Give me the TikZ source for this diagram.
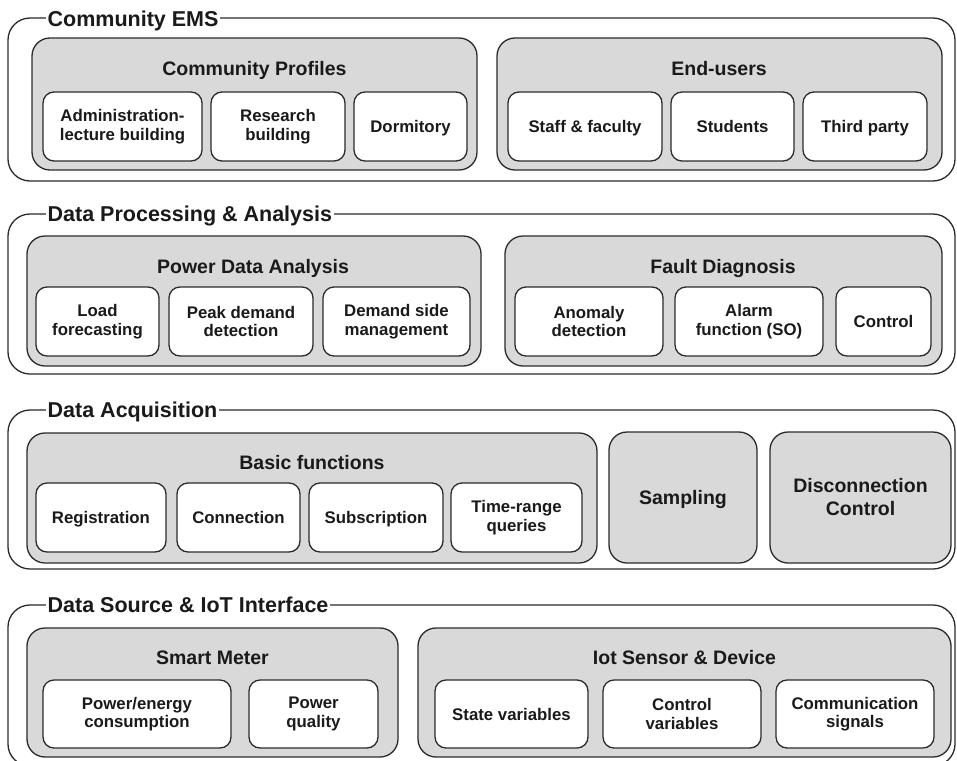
\documentclass[tikz,border=0pt]{standalone}
\usepackage{fontspec}
\setmainfont{Liberation Sans}
\definecolor{lc}{HTML}{2B2B2B}
\definecolor{gr}{HTML}{D9D9D9}
\definecolor{tc}{HTML}{1A1A1A}
\newcommand\rbox[6]{\node[#1, minimum width={(#4)-(#2)}, minimum height={(#5)-(#3)}, inner sep=0pt] (#6) at ({((#2)+(#4))/2},{((#3)+(#5))/2})}
\begin{document}
\begin{tikzpicture}[x=1pt,y=-1pt,
  sect/.style={draw=lc, line width=1.3pt, rounded corners=22pt, fill=white},
  grp/.style={draw=lc, line width=1.3pt, rounded corners=18pt, fill=gr, text=tc, align=center, font=\bfseries\fontsize{19.5}{23}\selectfont},
  itm/.style={draw=lc, line width=1.3pt, rounded corners=11pt, fill=white, text=tc, align=center, font=\bfseries\fontsize{16.8}{18.5}\selectfont},
  oneline/.style={text height=12pt, text depth=0pt},
  oneline big/.style={text height=14pt, text depth=0pt},
  stitle/.style={fill=white, text=tc, inner xsep=1.5pt, inner ysep=1pt, anchor=base west, font=\bfseries\fontsize{21.5}{24}\selectfont},
  gtitle/.style={text=tc, inner sep=0pt, anchor=base, font=\bfseries\fontsize{19.5}{23}\selectfont}]
\useasboundingbox (0,0) rectangle (957,760);

% ---------- Section 1 ----------
\rbox{sect}{8}{18}{955}{181}{s1} {};
\node[stitle] (s1t) at (46,26.5) {Community EMS};
\rbox{grp}{32}{38}{477}{170}{cp} {};
\node[gtitle] (cpt) at (254.5,75) {Community Profiles};
\rbox{itm}{43}{92}{202}{161}{adm} {Administration-\\lecture building};
\rbox{itm}{211}{92}{345}{161}{res} {Research\\building};
\rbox{itm,oneline}{354}{92}{467}{161}{dorm} {Dormitory};
\rbox{grp}{497}{38}{942}{170}{eu} {};
\node[gtitle] (eut) at (719,75) {End-users};
\rbox{itm,oneline}{508}{92}{662}{161}{staff} {Staff \& faculty};
\rbox{itm,oneline}{671}{92}{794}{161}{stud} {Students};
\rbox{itm,oneline}{803}{92}{927}{161}{third} {Third party};

% ---------- Section 2 ----------
\rbox{sect}{8}{214}{955}{374}{s2} {};
\node[stitle] (s2t) at (46,221.5) {Data Processing \& Analysis};
\rbox{grp}{27}{236}{481}{366}{pda} {};
\node[gtitle] (pdat) at (253,273) {Power Data Analysis};
\rbox{itm}{36}{287}{159}{356}{load} {Load\\forecasting};
\rbox{itm}{169}{287}{313}{356}{peak} {Peak demand\\detection};
\rbox{itm}{323}{287}{470}{356}{dsm} {Demand side\\management};
\rbox{grp}{505}{236}{942}{366}{fd} {};
\node[gtitle] (fdt) at (723,273) {Fault Diagnosis};
\rbox{itm}{515}{287}{663}{356}{anom} {Anomaly\\detection};
\rbox{itm}{675}{287}{823}{356}{alarm} {Alarm\\function (SO)};
\rbox{itm,oneline}{836}{287}{931}{356}{ctrl} {Control};

% ---------- Section 3 ----------
\rbox{sect}{8}{410}{955}{569}{s3} {};
\node[stitle] (s3t) at (46,417.5) {Data Acquisition};
\rbox{grp}{27}{433}{597}{563}{bf} {};
\node[gtitle] (bft) at (312,469) {Basic functions};
\rbox{itm,oneline}{36}{483}{166}{552}{reg} {Registration};
\rbox{itm,oneline}{177}{483}{300}{552}{conn} {Connection};
\rbox{itm,oneline}{309}{483}{443}{552}{subs} {Subscription};
\rbox{itm}{451}{483}{582}{552}{trq} {Time-range\\queries};
\rbox{grp,oneline big}{609}{432}{757}{563}{samp} {Sampling};
\rbox{grp}{770}{432}{951}{563}{disc} {Disconnection\\Control};

% ---------- Section 4 ----------
\rbox{sect}{8}{605}{955}{766}{s4} {};
\node[stitle] (s4t) at (46,612.5) {Data Source \& IoT Interface};
\rbox{grp}{27}{628}{398}{757}{sm} {};
\node[gtitle] (smt) at (212.5,664) {Smart Meter};
\rbox{itm}{43}{680}{231}{748}{pec} {Power/energy\\consumption};
\rbox{itm}{249}{680}{378}{748}{pq} {Power\\quality};
\rbox{grp}{418}{628}{951}{757}{iot} {};
\node[gtitle] (iott) at (684.5,664) {Iot Sensor \& Device};
\rbox{itm,oneline}{435}{680}{588}{748}{sv} {State variables};
\rbox{itm}{603}{680}{761}{748}{cv} {Control\\variables};
\rbox{itm}{776}{680}{934}{748}{cs} {Communication\\signals};
\end{tikzpicture}
\end{document}
